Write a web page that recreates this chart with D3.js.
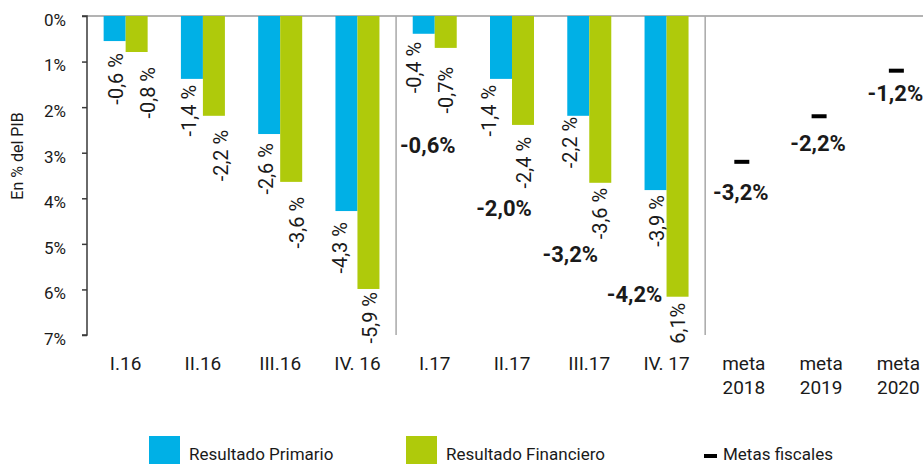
<!DOCTYPE html>
<html>
<head>
<meta charset="utf-8">
<script src="https://cdn.jsdelivr.net/npm/d3@7"></script>
<style>
  body { margin: 0; background: #fff; }
  text { font-family: Roboto, "Noto Sans", sans-serif; fill: #1a1a1a; }
</style>
</head>
<body>
<div id="chart"></div>
<script>
// Datos
const categories = ["I.16", "II.16", "III.16", "IV. 16", "I.17", "II.17", "III.17", "IV. 17", "meta 2018", "meta 2019", "meta 2020"];
const quarters = categories.slice(0, 8);
const primario = [-0.55, -1.38, -2.59, -4.28, -0.39, -1.38, -2.19, -3.82];
const financiero = [-0.79, -2.19, -3.64, -5.99, -0.70, -2.39, -3.66, -6.16];
const primarioLabels = ["-0,6 %", "-1,4 %", "-2,6 %", "-4,3 %", "-0,4 %", "-1,4 %", "-2,2 %", "-3,9 %"];
const financieroLabels = ["-0,8 %", "-2,2 %", "-3,6 %", "-5,9 %", "-0,7%", "-2,4 %", "-3,6 %", "6,1%"];
const metaCats = ["meta 2018", "meta 2019", "meta 2020"];
const metas = [-3.2, -2.2, -1.2];
const metaLabels = ["-3,2%", "-2,2%", "-1,2%"];
const metas2017Cats = ["I.17", "II.17", "III.17", "IV. 17"];
const metas2017Labels = ["-0,6%", "-2,0%", "-3,2%", "-4,2%"];
const yTicks = [0, -1, -2, -3, -4, -5, -6, -7];

// Ajustes manuales de las etiquetas (como en el original): [dx, separación]
const nudgeP = [[1, 12], [-3, 6], [-3, 9], [-6, 11], [-10, 8], [-12, 6], [-8, 1], [1, 5]];
const nudgeF = [[11, 15], [7, 14], [6, 15], [2, 3], [0, 19], [1, 12], [0, 5], [0, 6]];
const metas2017Pos = [[-7, -3.0], [-8, -4.39], [-19, -5.4], [-32, -6.28]];
const metaLabelGap = [38, 35, 30];

const width = 923;
const height = 464;
const blue = "#00b0e6";
const green = "#afca0b";

const svg = d3.select("#chart").append("svg")
    .attr("width", width)
    .attr("height", height);

const x = d3.scaleBand()
    .domain(categories)
    .range([87, 937]);

const xs = d3.scaleBand()
    .domain(["p", "f"])
    .range([-22, 22]);

const y = d3.scaleLinear()
    .domain([0, -7])
    .range([16, 335]);

const cx = c => x(c) + x.bandwidth() / 2;

// línea superior y separadores
svg.append("line")
    .attr("x1", 87).attr("x2", width)
    .attr("y1", y(0)).attr("y2", y(0))
    .attr("stroke", "#9a9a9a").attr("stroke-width", 1.5);

[categories[4], categories[8]].forEach(c => {
    svg.append("line")
        .attr("x1", x(c)).attr("x2", x(c))
        .attr("y1", y(0)).attr("y2", y(-7))
        .attr("stroke", "#a8a8a8").attr("stroke-width", 1.5);
});

// eje Y
const yAxis = svg.append("g")
    .attr("transform", "translate(87,0)")
    .call(d3.axisLeft(y).tickValues(yTicks).tickSize(5).tickPadding(16)
        .tickFormat(d => Math.abs(d) + "%"));
yAxis.select(".domain").attr("stroke", "#3a3a3a").attr("stroke-width", 1.5)
    .attr("d", `M-5,${y(-7)}H0V${y(0)}H-5`);
yAxis.selectAll(".tick line").attr("stroke", "#3a3a3a").attr("stroke-width", 1.5);
yAxis.selectAll(".tick text")
    .style("font-size", "17px")
    .attr("dy", "0.55em")
    .attr("fill", "#1a1a1a");

svg.append("text")
    .attr("transform", `translate(23,156) rotate(-90)`)
    .attr("text-anchor", "middle")
    .style("font-size", "16px")
    .text("En % del PIB");

// etiquetas del eje X
svg.append("g").selectAll("text")
    .data(categories)
    .join("text")
    .attr("text-anchor", "middle")
    .style("font-size", "19px")
    .selectAll("tspan")
    .data(c => c.startsWith("meta") ? c.split(" ").map(t => [c, t]) : [[c, c]])
    .join("tspan")
    .attr("x", d => cx(d[0]))
    .attr("y", (d, i) => 370 + i * 24)
    .text(d => d[1]);

// barras
const series = [
    { key: "p", values: primario, labels: primarioLabels, nudge: nudgeP, color: blue },
    { key: "f", values: financiero, labels: financieroLabels, nudge: nudgeF, color: green }
];

series.forEach(s => {
    svg.append("g").selectAll("rect")
        .data(quarters)
        .join("rect")
        .attr("x", c => cx(c) + xs(s.key))
        .attr("y", y(0))
        .attr("width", xs.bandwidth())
        .attr("height", (c, i) => y(s.values[i]) - y(0))
        .attr("fill", s.color);

    svg.append("g").selectAll("text")
        .data(quarters)
        .join("text")
        .attr("transform", (c, i) => {
            const px = cx(c) + xs(s.key) + xs.bandwidth() / 2 + s.nudge[i][0];
            const py = y(s.values[i]) + s.nudge[i][1];
            return `translate(${px},${py}) rotate(-90)`;
        })
        .attr("text-anchor", "end")
        .attr("dy", "0.35em")
        .style("font-size", "20px")
        .text((c, i) => s.labels[i]);
});

// metas trimestrales 2017 (negrita)
svg.append("g").selectAll("text")
    .data(metas2017Cats)
    .join("text")
    .attr("x", (c, i) => cx(c) + metas2017Pos[i][0])
    .attr("y", (c, i) => y(metas2017Pos[i][1]))
    .attr("text-anchor", "middle")
    .style("font-size", "22px")
    .style("font-weight", "bold")
    .attr("fill", "#000")
    .text((c, i) => metas2017Labels[i]);

// metas fiscales
svg.append("g").selectAll("rect")
    .data(metaCats)
    .join("rect")
    .attr("x", c => cx(c) - 2 - 7.5)
    .attr("y", (c, i) => y(metas[i]) - 2)
    .attr("width", 15)
    .attr("height", 4)
    .attr("fill", "#000");

svg.append("g").selectAll("text")
    .data(metaCats)
    .join("text")
    .attr("x", c => cx(c) - 3)
    .attr("y", (c, i) => y(metas[i]) + metaLabelGap[i])
    .attr("text-anchor", "middle")
    .style("font-size", "22px")
    .style("font-weight", "bold")
    .attr("fill", "#000")
    .text((c, i) => metaLabels[i]);

// leyenda
const legend = svg.append("g");
const legendItems = [
    { label: "Resultado Primario", color: blue, x: 149, type: "box" },
    { label: "Resultado Financiero", color: green, x: 406, type: "box" },
    { label: "Metas fiscales", color: "#000", x: 704, type: "dash" }
];
legendItems.forEach(d => {
    if (d.type === "box") {
        legend.append("rect")
            .attr("x", d.x).attr("y", 436)
            .attr("width", 31).attr("height", 28)
            .attr("fill", d.color);
        legend.append("text")
            .attr("x", d.x + 40).attr("y", 460)
            .style("font-size", "17px")
            .text(d.label);
    } else {
        legend.append("rect")
            .attr("x", d.x).attr("y", 454)
            .attr("width", 13).attr("height", 4)
            .attr("fill", d.color);
        legend.append("text")
            .attr("x", d.x + 19).attr("y", 460)
            .style("font-size", "17px")
            .text(d.label);
    }
});
</script>
</body>
</html>
